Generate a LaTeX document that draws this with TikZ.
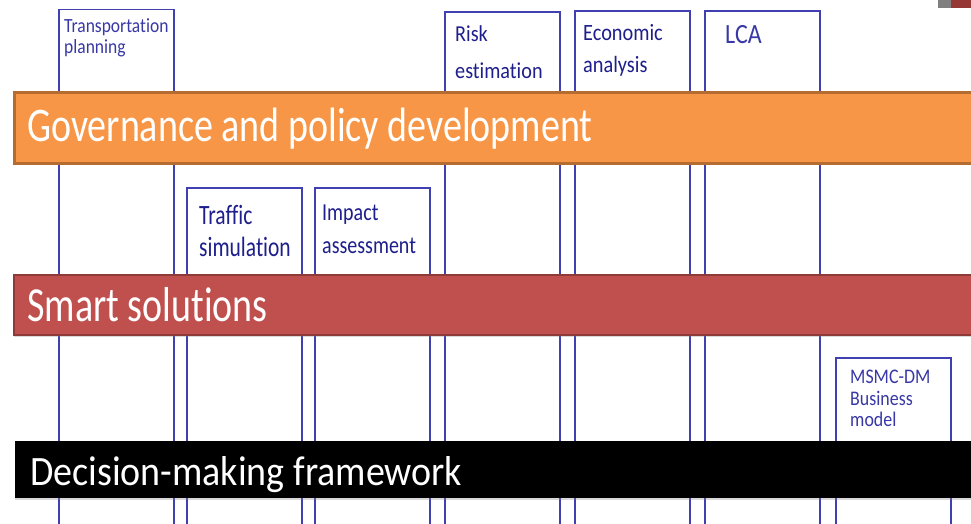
\documentclass[tikz,border=0pt]{standalone}
\usepackage{fontspec}
\setmainfont{Carlito}[Ligatures=NoCommon]
\usepackage{xcolor}
\usetikzlibrary{positioning, shadows}
\definecolor{colblue}{HTML}{4040B0}
\definecolor{navytext}{HTML}{1E1E8C}
\definecolor{softnavy}{HTML}{3838A6}
\definecolor{govorange}{HTML}{F79646}
\definecolor{govedge}{HTML}{B46C30}
\definecolor{smartred}{HTML}{C0504D}
\definecolor{smartedge}{HTML}{8E3A38}
\definecolor{topgrey}{HTML}{7F7F7F}
\definecolor{topred}{HTML}{953735}
\tikzstyle{colbox} = [draw=colblue, line width=1.7pt, fill=white, anchor=north west, minimum width=115, minimum height=560, inner sep=0pt]
\tikzstyle{coltext} = [anchor=base west, inner sep=0pt, align=left, text=navytext]
\tikzstyle{bar} = [anchor=north west, minimum width=990, inner sep=0pt, drop shadow={shadow xshift=0pt, shadow yshift=-2pt, opacity=0.3}]
\tikzstyle{bartext} = [anchor=base west, inner sep=0pt, text=white, font=\fontsize{38}{40}\selectfont]

\begin{document}
\begin{tikzpicture}[x=1pt, y=-1pt]
        \useasboundingbox (0,0) rectangle (971,523);
        % columns first, the three bands are laid over them (labels sit on their last baseline)
        \node[colbox] (trans) at (58,8.5) {};
        \node[colbox] (traffic) at (186,187) {};
        \node[colbox] (impact) at (314,187) {};
        \node[colbox] (risk) at (444,11) {};
        \node[colbox] (econ) at (574,10) {};
        \node[colbox] (lca) at (704,10) {};
        \node[colbox] (msmc) at (835,357) {};

        \node[coltext, text=softnavy, font=\fontsize{17.5}{17.4}\selectfont, yscale=1.15] (transtext) at (64,53) {Transportation\\planning};
        \node[coltext, font=\fontsize{21.5}{24.6}\selectfont, yscale=1.3] (traffictext) at (199,256) {Traffic\\simulation};
        \node[coltext, font=\fontsize{20}{27.3}\selectfont, yscale=1.22] (impacttext) at (322,253.3) {Impact\\assessment};
        \node[coltext, font=\fontsize{20.2}{32}\selectfont, yscale=1.13] (risktext) at (455,78) {Risk\\estimation};
        \node[coltext, font=\fontsize{20.3}{27.8}\selectfont, yscale=1.15] (econtext) at (583,72) {Economic\\analysis};
        \node[coltext, text=softnavy, font=\fontsize{24}{26}\selectfont, yscale=1.16] (lcatext) at (725,43) {LCA};
        \node[coltext, text=softnavy, font=\fontsize{17.9}{18.7}\selectfont, yscale=1.16] (msmctext) at (850,426.7) {MSMC-DM\\Business\\model};

        \node[bar, fill=govorange, draw=govedge, line width=2.5pt, minimum height=71] (gov) at (13,91) {};
        \node[bartext, yscale=1.27] (govtext) at (27,141.7) {Governance and policy development};
        \node[bar, fill=smartred, draw=smartedge, line width=2pt, minimum height=60] (smart) at (13,273.5) {};
        \node[bartext, yscale=1.29] (smarttext) at (27,321.3) {Smart solutions};
        \node[bar, fill=black, minimum height=57] (decision) at (15,441) {};
        \node[bartext, yscale=1.1] (decisiontext) at (30,485) {Decision-making framework};

        \fill[topgrey] (938,0) rectangle (951,7.5);
        \fill[topred] (951,0) rectangle (971,7.5);
    \end{tikzpicture}
\end{document}
